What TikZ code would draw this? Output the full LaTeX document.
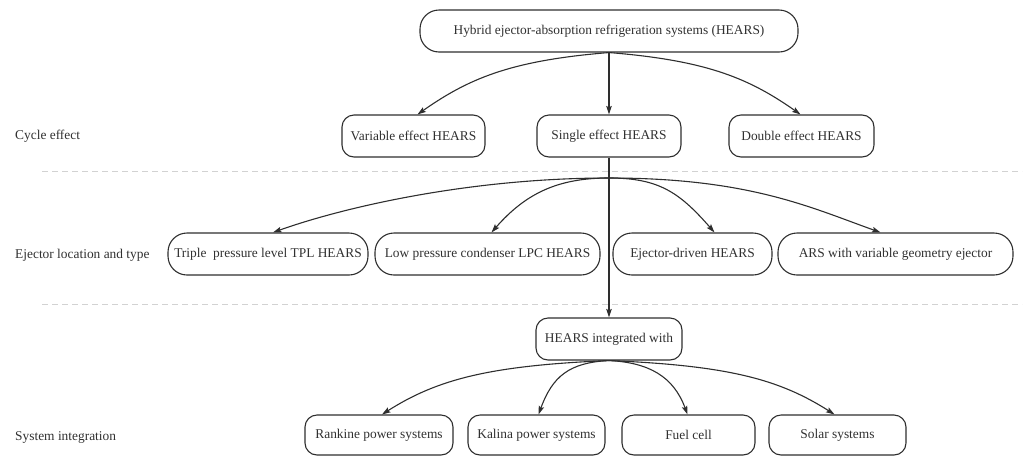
\documentclass[tikz,border=0pt]{standalone}
\usepackage{fontspec}
\setmainfont{Liberation Serif}
\usetikzlibrary{arrows.meta}
\definecolor{linec}{HTML}{2E2E2E}
\definecolor{textc}{HTML}{303030}
\newcommand{\boxfont}{\fontsize{13.4}{16}\selectfont}
\begin{document}
\begin{tikzpicture}[x=1pt,y=-1pt]
\tikzset{
  box/.style={draw=linec, line width=1.1pt, rounded corners=12pt, minimum height=42pt,
              inner sep=0pt, text=textc, font=\boxfont, anchor=center},
  pill/.style={box, rounded corners=19pt},
  arr/.style={draw=linec, line width=1.1pt, -{Stealth[length=8.5pt,width=5.5pt,inset=1.5pt]}},
  sep/.style={draw=gray!35, line width=0.9pt, dash pattern=on 6pt off 4pt},
  rowlabel/.style={anchor=west, inner sep=0pt, text=textc, font=\boxfont},
}
\useasboundingbox (0,0) rectangle (1033,456);

% section separators
\coordinate (s1a) at (42,171);  \coordinate (s1b) at (1022,171);
\coordinate (s2a) at (42,304);  \coordinate (s2b) at (1022,304);
\draw[sep] (s1a) -- (s1b);
\draw[sep] (s2a) -- (s2b);

% row labels
\node[rowlabel] (lab1) at (15,136) {Cycle effect};
\node[rowlabel] (lab2) at (15,255) {Ejector location and type};
\node[rowlabel] (lab3) at (15,437) {System integration};

% root
\node[pill, minimum width=378pt] (root) at (609,31) {Hybrid ejector-absorption refrigeration systems (HEARS)};

% cycle effect
\node[box, minimum width=143pt] (var)    at (413.5,136) {Variable effect HEARS};
\node[box, minimum width=144pt] (single) at (609,136)   {Single effect HEARS};
\node[box, minimum width=145pt] (double) at (801.5,136) {Double effect HEARS};

% ejector location and type
\coordinate (hub) at (609,178);
\node[pill, minimum width=200pt] (triple) at (268,254)   {Triple\ \ pressure level TPL HEARS};
\node[pill, minimum width=225pt] (low)    at (487.5,254) {Low pressure condenser LPC HEARS};
\node[pill, minimum width=159pt] (ejd)    at (692.5,254) {Ejector-driven HEARS};
\node[pill, minimum width=235pt] (ars)    at (895.5,254) {ARS with variable geometry ejector};

% system integration
\node[box, minimum width=146pt] (integ) at (609,339) {HEARS integrated with};
\node[box, minimum width=148pt, minimum height=40pt] (rank)  at (379,435)   {Rankine power systems};
\node[box, minimum width=137pt, minimum height=40pt] (kal)   at (536.5,435) {Kalina power systems};
\node[box, minimum width=133pt, minimum height=40pt] (fuel)  at (688.5,435) {Fuel cell};
\node[box, minimum width=137pt, minimum height=40pt] (solar) at (837.5,435) {Solar systems};

% root to cycle effect
\draw[arr] (root.south) .. controls +(-100,8) and +(50,-35) .. ([xshift=4pt]var.north);
\draw[arr] (root.south) -- (single.north);
\draw[arr] (root.south) .. controls +(100,8) and +(-50,-35) .. ([xshift=-1pt]double.north);

% single effect to ejector variants
\draw[arr] (hub) .. controls +(-140,0) and +(70,-25) .. ([xshift=5pt]triple.north);
\draw[arr] (hub) .. controls +(-50,0) and +(35,-40) .. ([xshift=4pt]low.north);
\draw[arr] (hub) .. controls +(50,0) and +(-35,-40) .. ([xshift=22pt]ejd.north);
\draw[arr] (hub) .. controls +(140,0) and +(-70,-25) .. ([xshift=-15pt]ars.north);

% single effect down to integration
\draw[arr] (single.south) -- (integ.north);

% integration options
\draw[arr] (integ.south) .. controls +(-120,5) and +(55,-35) .. ([xshift=3pt]rank.north);
\draw[arr] (integ.south) .. controls +(-40,2) and +(14,-38) .. ([xshift=2pt]kal.north);
\draw[arr] (integ.south) .. controls +(40,2) and +(-14,-38) .. ([xshift=-1pt]fuel.north);
\draw[arr] (integ.south) .. controls +(120,5) and +(-55,-35) .. ([xshift=-3pt]solar.north);
\end{tikzpicture}
\end{document}
